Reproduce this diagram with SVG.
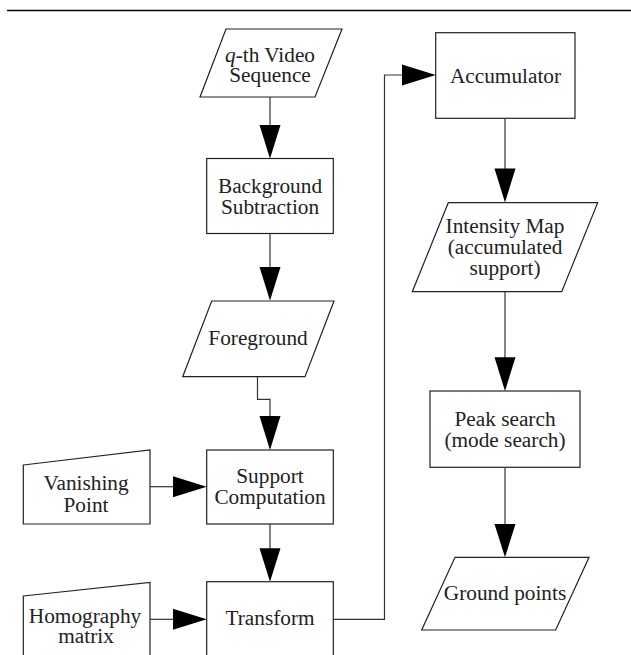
<svg xmlns="http://www.w3.org/2000/svg" width="631" height="655" viewBox="0 0 631 655">
<style>
.s{fill:#fff;stroke:#222;stroke-width:1.2}
.c{fill:none;stroke:#333;stroke-width:1.2}
.h{fill:#000;stroke:none}
text{font-family:"Liberation Serif","Times New Roman",serif;font-size:21.3px;fill:#222;text-anchor:middle}
</style>
<rect width="631" height="655" fill="#fff"/>
<line x1="7" y1="10.5" x2="631" y2="10.5" stroke="#000" stroke-width="1.4"/>
<g id="connectors">
<path class="c" d="M270 97 V126"/><polygon class="h" points="259.5,125 280.5,125 270,158.5"/>
<path class="c" d="M270 233.5 V268"/><polygon class="h" points="259.5,267 280.5,267 270,300.5"/>
<path class="c" d="M257.5 376.7 V399.3 H270 V417"/><polygon class="h" points="259.5,416 280.5,416 270,450"/>
<path class="c" d="M150 486.7 H174"/><polygon class="h" points="173,476.2 173,497.2 206.7,486.7"/>
<path class="c" d="M270 524 V549"/><polygon class="h" points="259.5,548.3 280.5,548.3 270,581.7"/>
<path class="c" d="M150 619.3 H174"/><polygon class="h" points="173,608.8 173,629.8 206.7,619.3"/>
<path class="c" d="M333.3 619.3 H384.5 V75 H403"/><polygon class="h" points="402,64.5 402,85.5 435.7,75"/>
<path class="c" d="M505 118.3 V169"/><polygon class="h" points="494.5,168.5 515.5,168.5 505,202.5"/>
<path class="c" d="M505 291.7 V358"/><polygon class="h" points="494.5,357.3 515.5,357.3 505,391"/>
<path class="c" d="M505 467.3 V525"/><polygon class="h" points="494.5,524 515.5,524 505,557.3"/>
</g>
<g id="video">
<polygon class="s" points="226,29 342,29 315,97 200,97"/>
<text x="270" y="61.5"><tspan font-style="italic">q</tspan>-th Video</text>
<text x="270" y="81.5">Sequence</text>
</g>
<g id="background">
<rect class="s" x="206.7" y="158.5" width="126.6" height="75"/>
<text x="270" y="192.7">Background</text>
<text x="270" y="213.5">Subtraction</text>
</g>
<g id="foreground">
<polygon class="s" points="211.7,301 334,301 305,376.7 182.7,376.7"/>
<text x="258" y="345">Foreground</text>
</g>
<g id="vanishing">
<polygon class="s" points="23.3,465 150,450 150,524 23.3,524"/>
<text x="86" y="490">Vanishing</text>
<text x="86" y="511.7">Point</text>
</g>
<g id="support">
<rect class="s" x="206.7" y="450" width="126.6" height="74"/>
<text x="270" y="482.7">Support</text>
<text x="270" y="504">Computation</text>
</g>
<g id="homography">
<polygon class="s" points="23.3,596 150,582.3 150,660 23.3,660"/>
<text x="85" y="623.3">Homography</text>
<text x="86" y="643.3">matrix</text>
</g>
<g id="transform">
<rect class="s" x="206.7" y="581.7" width="126.6" height="80"/>
<text x="270" y="625">Transform</text>
</g>
<g id="accumulator">
<rect class="s" x="435.7" y="32.7" width="139.3" height="85.6"/>
<text x="505.5" y="83.3">Accumulator</text>
</g>
<g id="intensity">
<polygon class="s" points="448.3,202.7 597.7,202.7 561.7,291.7 412.3,291.7"/>
<text x="505" y="233.3">Intensity Map</text>
<text x="505" y="254">(accumulated</text>
<text x="505" y="274.5">support)</text>
</g>
<g id="peak">
<rect class="s" x="430" y="391" width="150" height="76.3"/>
<text x="505" y="425.7">Peak search</text>
<text x="505" y="446.7">(mode search)</text>
</g>
<g id="ground">
<polygon class="s" points="455,557.3 589,557.3 555.7,630 421.7,630"/>
<text x="505" y="600">Ground points</text>
</g>
</svg>
